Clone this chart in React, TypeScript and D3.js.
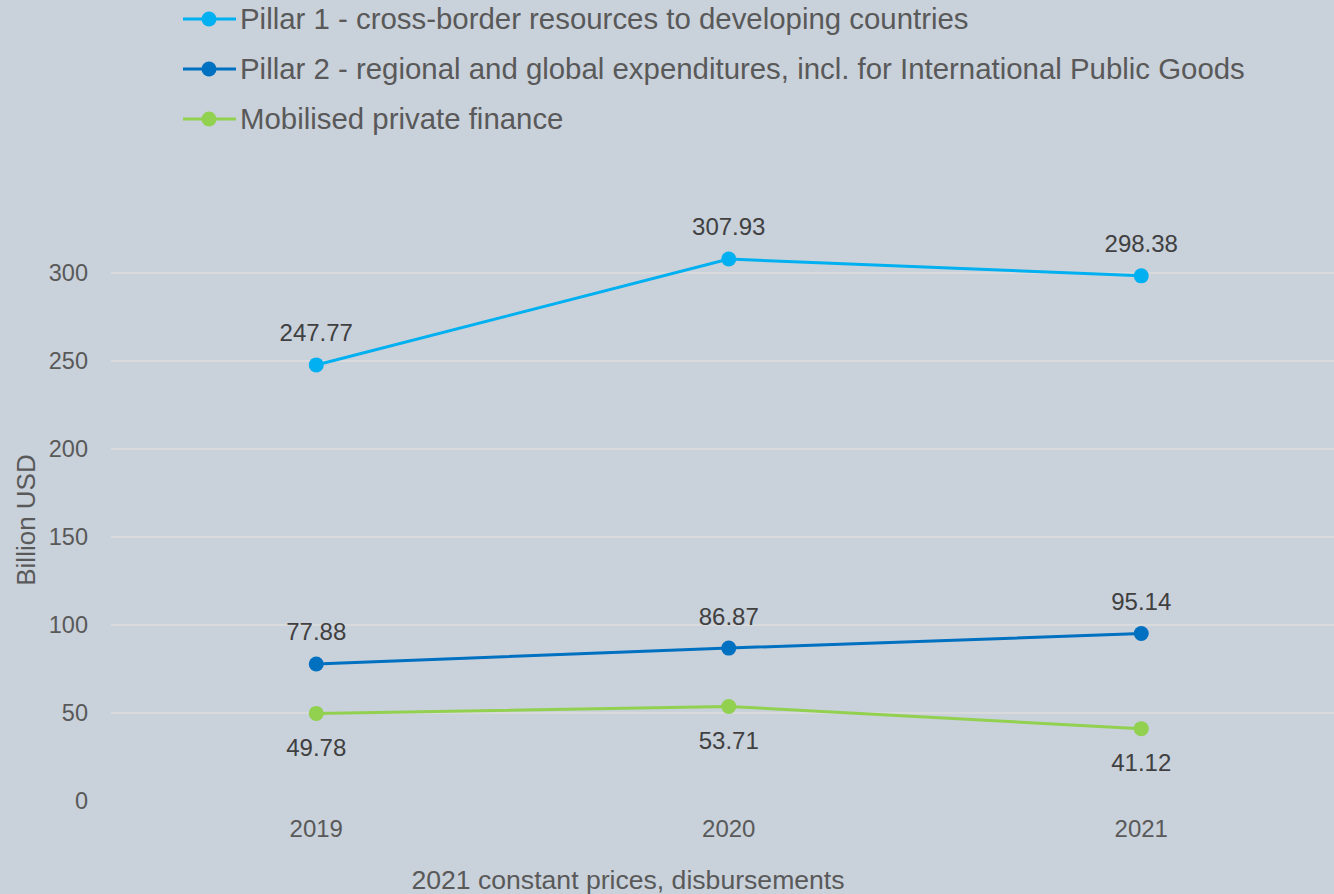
import React from "react";
import * as d3 from "d3";

const years = ["2019", "2020", "2021"];
const pillar1 = [247.77, 307.93, 298.38];
const pillar2 = [77.88, 86.87, 95.14];
const mobilised = [49.78, 53.71, 41.12];
const yTicks = [0, 50, 100, 150, 200, 250, 300];
const seriesNames = [
  "Pillar 1 - cross-border resources to developing countries",
  "Pillar 2 - regional and global expenditures, incl. for International Public Goods",
  "Mobilised private finance",
];
const seriesColors = ["#00b0f0", "#0070c0", "#92d050"];

const W = 1334;
const H = 894;
const FONT = "'Liberation Sans', Arial, sans-serif";

export default function App() {
  const x = d3.scaleBand<string>().domain(years).range([110, 1347.5]);
  const y = d3.scaleLinear().domain([0, 300]).range([801, 273]);
  const line = d3
    .line<number>()
    .x((_, i) => (x(years[i]) as number) + x.bandwidth() / 2)
    .y((d) => y(d));
  const series = [pillar1, pillar2, mobilised];
  const labelBelow = [false, false, true];

  return (
    <svg
      width={W}
      height={H}
      style={{ position: "absolute", left: 0, top: 0 }}
      fontFamily={FONT}
    >
      <rect width={W} height={H} fill="#c9d1db" />
      {yTicks.map((t) => (
        <g key={t}>
          {t > 0 && (
            <line x1={111} x2={1334} y1={y(t)} y2={y(t)} stroke="#dcdcdc" strokeWidth={1.5} />
          )}
          <text x={88} y={y(t)} dy="0.35em" textAnchor="end" fontSize={23.5} fill="#595959">
            {t}
          </text>
        </g>
      ))}
      {years.map((yr) => (
        <text
          key={yr}
          x={(x(yr) as number) + x.bandwidth() / 2}
          y={829}
          dy="0.35em"
          textAnchor="middle"
          fontSize={24}
          fill="#595959"
        >
          {yr}
        </text>
      ))}
      <text
        transform="translate(26,520) rotate(-90)"
        textAnchor="middle"
        dy="0.35em"
        fontSize={26}
        fill="#595959"
      >
        Billion USD
      </text>
      <text x={628} y={880} dy="0.35em" textAnchor="middle" fontSize={26.6} fill="#595959">
        2021 constant prices, disbursements
      </text>
      {series.map((s, si) => (
        <g key={si}>
          <path d={line(s) || ""} fill="none" stroke={seriesColors[si]} strokeWidth={3} />
          {s.map((v, i) => {
            const cx = (x(years[i]) as number) + x.bandwidth() / 2;
            return (
              <g key={i}>
                <circle cx={cx} cy={y(v)} r={7.5} fill={seriesColors[si]} />
                <text
                  x={cx}
                  y={y(v) + (labelBelow[si] ? 34 : -32)}
                  dy="0.35em"
                  textAnchor="middle"
                  fontSize={24}
                  fill="#404040"
                >
                  {v.toFixed(2)}
                </text>
              </g>
            );
          })}
        </g>
      ))}
      {seriesNames.map((n, i) => (
        <g key={n} transform={`translate(0,${19 + i * 50})`}>
          <line x1={183} x2={236} y1={0} y2={0} stroke={seriesColors[i]} strokeWidth={3} />
          <circle cx={209} cy={0} r={7.5} fill={seriesColors[i]} />
          <text x={240} y={0} dy="0.35em" fontSize={29.4} fill="#595959">
            {n}
          </text>
        </g>
      ))}
    </svg>
  );
}
